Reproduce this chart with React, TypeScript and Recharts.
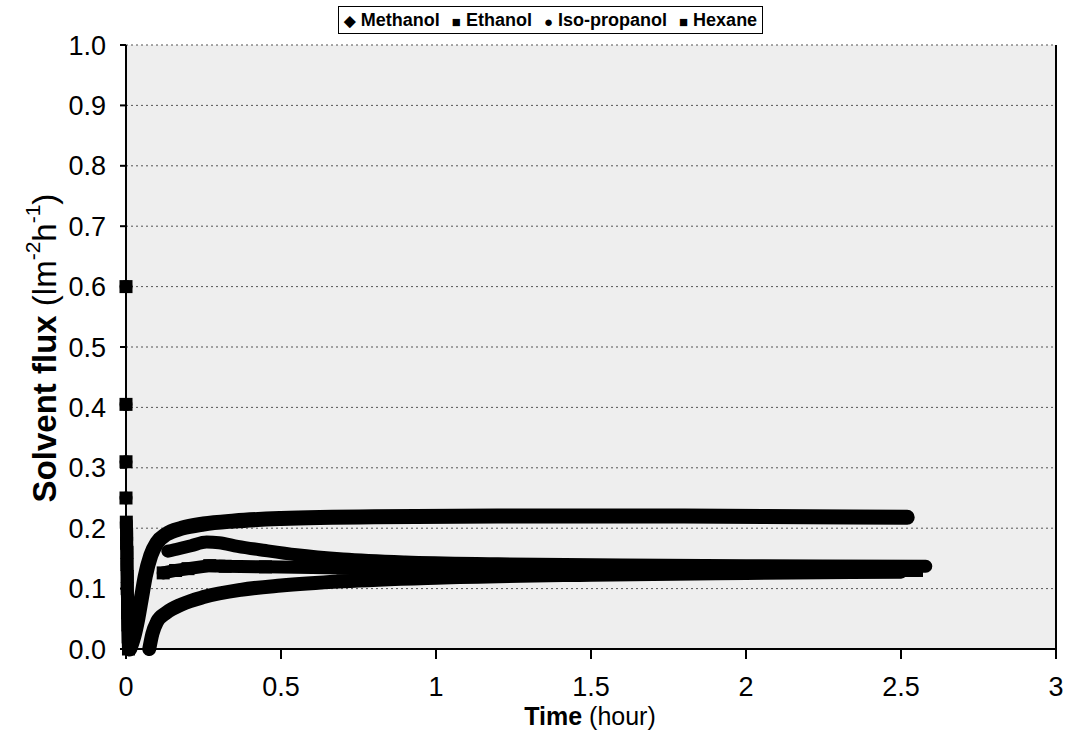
import React from 'react';
import { LineChart, Line, XAxis, YAxis, CartesianGrid, ReferenceLine } from 'recharts';

type Pt = [number, number | null];

// [time (hour), flux]; null = break in the trace
const methanol: Pt[] = [
  [0.012, 0.0], [0.025, 0.02], [0.038, 0.05], [0.05, 0.085], [0.062, 0.12], [0.08, 0.155],
  [0.1, 0.176], [0.13, 0.19], [0.18, 0.2], [0.25, 0.207], [0.35, 0.212], [0.5, 0.216],
  [0.8, 0.219], [1.2, 0.22], [1.8, 0.22], [2.2, 0.219], [2.52, 0.218],
];
const ethanol: Pt[] = [
  [0.135, 0.162], [0.17, 0.166], [0.21, 0.171], [0.26, 0.177], [0.3, 0.176], [0.36, 0.17],
  [0.45, 0.163], [0.55, 0.156], [0.7, 0.149], [0.9, 0.144], [1.2, 0.141], [1.6, 0.139],
  [2.0, 0.138], [2.58, 0.137],
];
const isoPropanol: Pt[] = [
  [0.075, 0.0], [0.085, 0.025], [0.1, 0.045], [0.13, 0.06], [0.18, 0.074], [0.25, 0.086],
  [0.37, 0.098], [0.5, 0.105], [0.7, 0.112], [1.0, 0.118], [1.5, 0.123], [2.0, 0.126],
  [2.5, 0.128],
];
const hexane: Pt[] = [
  [0, 0.6], [0, null], [0, 0.405], [0, null], [0, 0.31], [0, null], [0, 0.25], [0, null],
  [0.001, 0.21], [0.002, 0.19], [0.002, 0.175], [0.003, 0.16], [0.003, 0.14], [0.004, 0.12],
  [0.004, 0.1], [0.005, 0.08], [0.005, 0.06], [0.006, 0.04], [0.007, 0.02], [0.008, 0.0],
  [0.05, null],
  [0.12, 0.126], [0.16, 0.13], [0.2, 0.133], [0.27, 0.138], [0.32, 0.137], [0.45, 0.136],
  [0.7, 0.134], [1.0, 0.133], [1.5, 0.132], [2.0, 0.131], [2.55, 0.13],
];

const xTicks = [0, 0.5, 1, 1.5, 2, 2.5, 3];
const yTicks = [0, 0.1, 0.2, 0.3, 0.4, 0.5, 0.6, 0.7, 0.8, 0.9, 1.0];

const legendItems = [
  { name: 'Methanol', marker: '◆' },
  { name: 'Ethanol', marker: '■' },
  { name: 'Iso-propanol', marker: '●' },
  { name: 'Hexane', marker: '■' },
];

const FONT = '"Liberation Sans", Arial, sans-serif';

const toRows = (pts: Pt[]) => pts.map(([t, v]) => ({ t, v }));

const SquareDot = (props: any) => {
  const { cx, cy, index } = props;
  if (cx == null || cy == null || props.payload?.v == null) return <g key={`sq-${index}`} />;
  return <rect key={`sq-${index}`} x={cx - 6.5} y={cy - 6.5} width={13} height={13} fill="#000" />;
};

const YTitle = () => (
  <text
    x={44}
    y={348}
    transform="rotate(-90, 44, 348)"
    textAnchor="middle"
    dominantBaseline="central"
    fontFamily={FONT}
    fontSize={33}
    fill="#000"
  >
    <tspan fontWeight="bold">Solvent flux</tspan>
    <tspan> (lm</tspan>
    <tspan dy={-12} fontSize={21}>-2</tspan>
    <tspan dy={12}>h</tspan>
    <tspan dy={-12} fontSize={21}>-1</tspan>
    <tspan dy={12}>)</tspan>
  </text>
);

const XTitle = () => (
  <text x={590} y={716} textAnchor="middle" dominantBaseline="central" fontFamily={FONT} fontSize={25} fill="#000">
    <tspan fontWeight="bold">Time</tspan>
    <tspan> (hour)</tspan>
  </text>
);

const series = [
  { name: 'Methanol', pts: methanol, w: 15 },
  { name: 'Ethanol', pts: ethanol, w: 13 },
  { name: 'Iso-propanol', pts: isoPropanol, w: 14 },
];

export default function App() {
  return (
    <div style={{ position: 'absolute', left: 0, top: 0, width: 1068, height: 732, background: '#fff' }}>
      <div
        style={{
          position: 'absolute',
          left: 338,
          top: 6,
          width: 425,
          height: 28,
          boxSizing: 'border-box',
          border: '1.5px solid #000',
          display: 'flex',
          alignItems: 'center',
          justifyContent: 'center',
          gap: 12,
          fontFamily: FONT,
          fontWeight: 'bold',
          fontSize: 18,
          zIndex: 2,
          background: '#fff',
        }}
      >
        {legendItems.map((it) => (
          <span key={it.name}>
            <span style={{ fontSize: 15, verticalAlign: 'middle' }}>{it.marker}</span> {it.name}
          </span>
        ))}
      </div>
      <LineChart width={1068} height={732} margin={{ top: 45, right: 12, bottom: 0, left: 0 }}>
        <CartesianGrid
          vertical={false}
          fill="#eeeeee"
          stroke="#555"
          strokeDasharray="2 3"
          horizontalValues={yTicks}
        />
        <XAxis
          dataKey="t"
          type="number"
          domain={[0, 3]}
          ticks={xTicks}
          height={83}
          tickSize={10}
          tickMargin={18}
          axisLine={{ stroke: '#000', strokeWidth: 2 }}
          tickLine={{ stroke: '#000', strokeWidth: 2 }}
          tick={{ fill: '#000', fontSize: 27, fontFamily: FONT }}
          tickFormatter={(v: number) => String(v)}
          label={<XTitle />}
        />
        <YAxis
          type="number"
          domain={[0, 1]}
          ticks={yTicks}
          width={126}
          tickSize={6}
          tickMargin={14}
          axisLine={{ stroke: '#000', strokeWidth: 2 }}
          tickLine={{ stroke: '#000', strokeWidth: 2 }}
          tick={{ fill: '#000', fontSize: 27, fontFamily: FONT }}
          tickFormatter={(v: number) => v.toFixed(1)}
          label={<YTitle />}
        />
        <ReferenceLine x={3} stroke="#000" strokeWidth={2} />
        {series.map((s) => (
          <Line
            key={s.name}
            name={s.name}
            data={toRows(s.pts)}
            dataKey="v"
            type="monotone"
            stroke="#000"
            strokeWidth={s.w}
            strokeLinecap="round"
            strokeLinejoin="round"
            dot={false}
            isAnimationActive={false}
          />
        ))}
        <Line
          name="Hexane"
          data={toRows(hexane)}
          dataKey="v"
          type="linear"
          stroke="#000"
          strokeWidth={13}
          strokeLinecap="round"
          strokeLinejoin="round"
          dot={SquareDot}
          isAnimationActive={false}
        />
      </LineChart>
    </div>
  );
}
